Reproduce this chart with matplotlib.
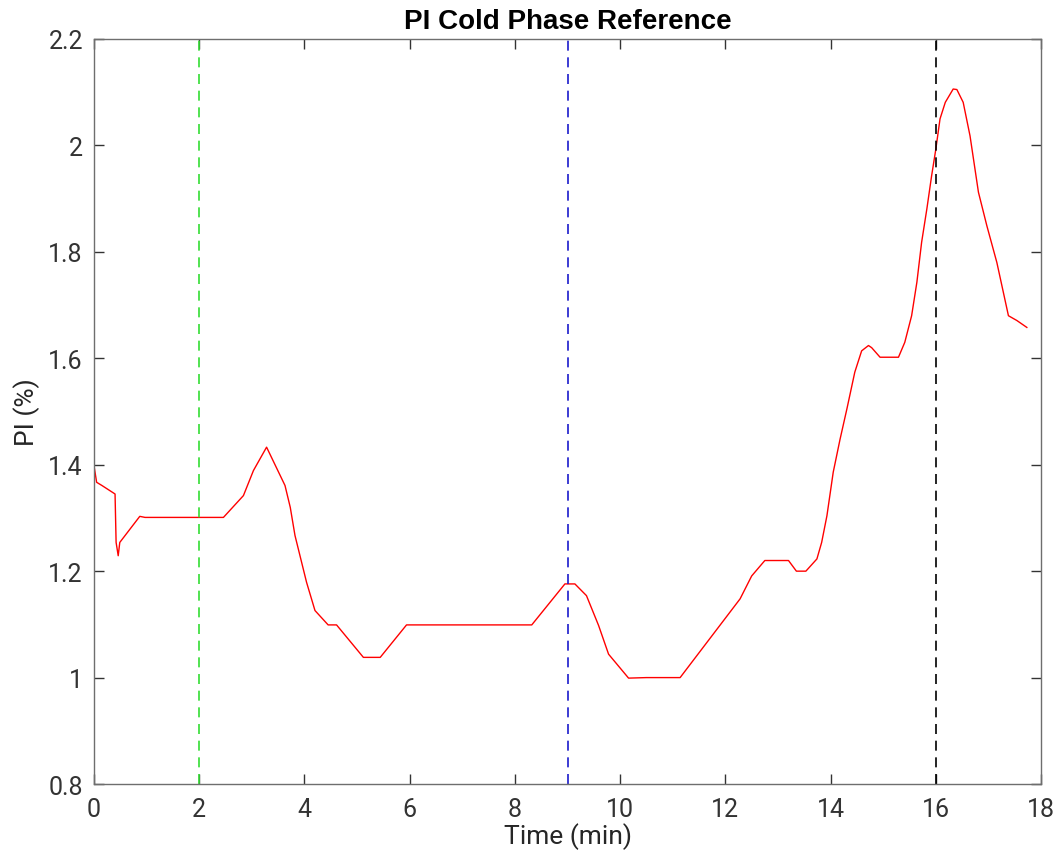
import numpy as np
import matplotlib.pyplot as plt

plt.rcParams['font.family'] = ['Roboto', 'DejaVu Sans']

# PI trace (time in min, PI in %)
t = [0.00, 0.05, 0.15, 0.40, 0.42, 0.46, 0.49, 0.87, 0.97, 2.46, 2.84, 3.03,
     3.28, 3.63, 3.73, 3.82, 4.04, 4.20, 4.45, 4.61, 5.12, 5.44, 5.94, 8.32,
     8.95, 9.14, 9.36, 9.59, 9.78, 10.16, 10.50, 11.14, 12.28, 12.50, 12.75,
     13.20, 13.35, 13.53, 13.74, 13.83, 13.93, 14.05, 14.18, 14.31, 14.46,
     14.59, 14.72, 14.78, 14.94, 15.29, 15.41, 15.54, 15.64, 15.73, 15.83,
     15.92, 16.00, 16.08, 16.18, 16.33, 16.40, 16.52, 16.65, 16.81, 16.97,
     17.16, 17.38, 17.54, 17.73]
pi = [1.398, 1.367, 1.361, 1.345, 1.254, 1.229, 1.254, 1.303, 1.301, 1.301,
      1.342, 1.389, 1.433, 1.361, 1.320, 1.267, 1.179, 1.126, 1.099, 1.099,
      1.038, 1.038, 1.099, 1.099, 1.176, 1.176, 1.154, 1.098, 1.044, 0.999,
      1.000, 1.000, 1.148, 1.191, 1.220, 1.220, 1.200, 1.200, 1.223, 1.254,
      1.304, 1.386, 1.448, 1.505, 1.574, 1.614, 1.624, 1.620, 1.602, 1.602,
      1.630, 1.680, 1.743, 1.818, 1.881, 1.943, 1.993, 2.050, 2.081, 2.106,
      2.105, 2.081, 2.018, 1.912, 1.849, 1.780, 1.680, 1.671, 1.658]

marks = [2, 9, 16]
mark_colors = ['#33dd33', '#1a1acc', '#000000']

fig = plt.figure(figsize=(10.61, 8.62), dpi=100)
ax = fig.add_axes([0.0886, 0.0893, 0.8926, 0.8643])

ax.plot(t, pi, color='red', linewidth=1.0)
for m, c in zip(marks, mark_colors):
    ax.axvline(m, color=c, linestyle=(0, (6, 4)), linewidth=1.2)

ax.set_xlim(0, 18)
ax.set_ylim(0.8, 2.2)
ax.set_xticks(np.arange(0, 19, 2))
ax.set_yticks([0.8, 1, 1.2, 1.4, 1.6, 1.8, 2, 2.2])
ax.set_yticklabels(['0.8', '1', '1.2', '1.4', '1.6', '1.8', '2', '2.2'])

ax.tick_params(direction='in', top=True, right=True, length=7, width=1,
               labelsize=18, colors='#333333')
ax.tick_params(axis='x', pad=9)
ax.tick_params(axis='y', pad=8)
for s in ax.spines.values():
    s.set_color('#6e6e6e')
    s.set_linewidth(1.0)

ax.set_xlabel('Time (min)', fontsize=19, color='#262626', labelpad=1)
ax.set_ylabel('PI (%)', fontsize=19, color='#262626', labelpad=6)
ax.set_title('PI Cold Phase Reference', fontsize=20, fontweight='bold',
             family=['Liberation Sans', 'DejaVu Sans'], pad=8)

fig.savefig('out.png', dpi=100)
